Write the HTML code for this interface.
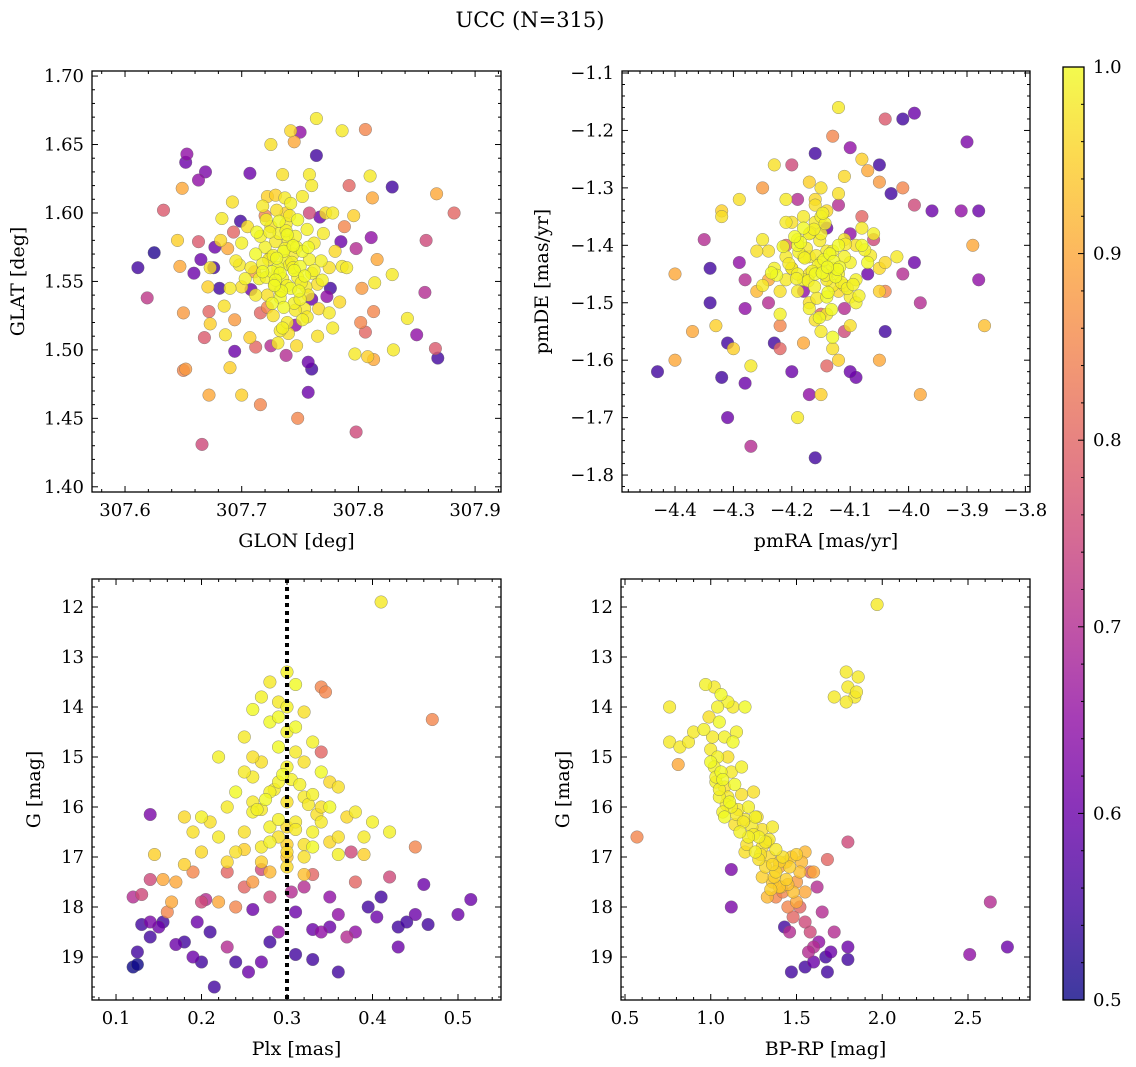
<!DOCTYPE html>
<html><head><meta charset="utf-8">
<style>
html,body{margin:0;padding:0;background:#fff;}
svg{display:block;font-family:"DejaVu Serif","Liberation Serif",serif;}
</style></head>
<body>
<svg id="fig" width="1136" height="1067" viewBox="0 0 1136 1067" xmlns="http://www.w3.org/2000/svg">
<defs>
<linearGradient id="cbgrad" x1="0" y1="1" x2="0" y2="0">
<stop offset="0" stop-color="#0d0887"/><stop offset="0.1" stop-color="#41049d"/><stop offset="0.2" stop-color="#6a00a8"/><stop offset="0.3" stop-color="#8f0da4"/><stop offset="0.4" stop-color="#b12a90"/><stop offset="0.5" stop-color="#cc4778"/><stop offset="0.6" stop-color="#e16462"/><stop offset="0.7" stop-color="#f2844b"/><stop offset="0.8" stop-color="#fca636"/><stop offset="0.9" stop-color="#fcce25"/><stop offset="1" stop-color="#f0f921"/>
</linearGradient>
</defs>
<text x="530" y="27" font-size="21" text-anchor="middle">UCC (N=315)</text>
</svg>
<script>
// ---- Panel 1: GLON / GLAT ----
const p1Lon = [307.611,307.619,307.625,307.633,307.653,307.652,307.663,307.669,307.649,307.645,307.647,307.650,307.650,307.652,307.666,307.672,307.668,307.690,307.700,307.716,307.748,307.757,307.798,307.808,307.802,307.830,307.842,307.850,307.857,307.866,307.868,307.858,307.867,307.882,307.829,307.806,307.786,307.764,307.750,307.745,307.764,307.758,307.792,307.810,307.812,307.811,307.816,307.814,307.803,307.829,307.813,307.806,307.813,307.797,307.778,307.760,307.757,307.738,307.725,307.712,307.707,307.694,307.694,307.686,307.673,307.672,307.681,307.671,307.673,307.659,307.665,307.663,307.677,307.676,307.688,307.683,307.699,307.693,307.707,307.722,307.729,307.720,307.738,307.758,307.767,307.778,307.788,307.796,307.785,307.798,307.786,307.790,307.776,307.773,307.760,307.775,307.746,307.733,307.754,307.722,307.716,307.708,307.698,307.700,307.711,
307.720,307.725,307.731,307.738,307.744,307.750,307.735,307.728,307.742,307.748,307.755,307.760,307.752,307.740,307.732,307.725,307.716,307.712,307.708,307.715,307.722,307.733,307.745,307.757,307.765,307.768,307.762,307.756,307.748,307.738,307.742,307.730,307.718,307.705,307.700,307.695,307.703,307.727,307.739,307.752,307.766,307.775,307.770,307.780,307.736,307.746,307.726,307.758,307.718,307.712,307.692,307.682,307.690,307.685,307.740,307.747,307.731,307.765,307.784,307.772,307.752,307.735,307.760,307.725,307.742,
307.733,307.741,307.729,307.737,307.745,307.723,307.751,307.734,307.727,307.744,307.738,307.731,307.749,307.721,307.736,307.743,307.729,307.754,307.739,307.732,307.746,307.724,307.757,307.735,307.741,307.718,307.762,307.728,307.750,307.737,307.713,307.744,307.730,307.756,307.721,307.739,307.747,307.733,307.726,307.769];
const p1Lat = [1.560,1.538,1.571,1.602,1.643,1.637,1.624,1.630,1.618,1.580,1.561,1.527,1.485,1.486,1.431,1.467,1.509,1.487,1.467,1.460,1.450,1.469,1.440,1.495,1.520,1.500,1.523,1.511,1.542,1.501,1.494,1.580,1.614,1.600,1.619,1.661,1.660,1.669,1.659,1.652,1.642,1.628,1.620,1.627,1.611,1.582,1.566,1.549,1.545,1.555,1.528,1.513,1.493,1.497,1.516,1.486,1.491,1.496,1.503,1.502,1.509,1.522,1.499,1.511,1.519,1.528,1.545,1.546,1.560,1.556,1.566,1.579,1.575,1.560,1.574,1.596,1.594,1.586,1.629,1.612,1.613,1.598,1.600,1.600,1.597,1.600,1.590,1.598,1.579,1.574,1.561,1.560,1.545,1.539,1.537,1.527,1.518,1.514,1.530,1.531,1.527,1.544,1.562,1.546,1.557,
1.575,1.568,1.560,1.565,1.570,1.561,1.552,1.548,1.545,1.553,1.546,1.556,1.572,1.580,1.585,1.590,1.583,1.570,1.560,1.552,1.540,1.538,1.534,1.540,1.548,1.565,1.578,1.588,1.595,1.592,1.607,1.602,1.605,1.590,1.578,1.565,1.552,1.525,1.520,1.522,1.530,1.560,1.585,1.572,1.572,1.583,1.557,1.566,1.563,1.540,1.608,1.580,1.545,1.532,1.512,1.503,1.505,1.510,1.535,1.600,1.612,1.628,1.620,1.650,1.660,
1.556,1.562,1.551,1.574,1.558,1.566,1.549,1.543,1.569,1.576,1.587,1.557,1.543,1.553,1.531,1.564,1.579,1.554,1.547,1.594,1.529,1.586,1.575,1.516,1.598,1.557,1.558,1.547,1.537,1.611,1.586,1.560,1.567,1.524,1.595,1.584,1.575,1.543,1.534,1.551];
const p1Prob = [0.55,0.72,0.52,0.78,0.65,0.6,0.65,0.62,0.9,0.95,0.9,0.88,0.85,0.88,0.75,0.9,0.78,0.95,0.95,0.85,0.85,0.6,0.75,0.95,0.85,0.98,0.98,0.65,0.7,0.78,0.55,0.75,0.9,0.8,0.55,0.85,0.98,0.98,0.65,0.9,0.55,0.98,0.8,0.98,0.9,0.65,0.9,0.98,0.88,0.98,0.85,0.8,0.9,0.98,0.98,0.55,0.6,0.7,0.7,0.8,0.95,0.88,0.6,0.97,0.95,0.8,0.55,0.95,0.97,0.6,0.6,0.78,0.6,0.55,0.9,0.98,0.55,0.8,0.6,0.95,0.95,0.85,0.95,0.75,0.6,0.98,0.85,0.95,0.6,0.7,0.98,0.98,0.55,0.65,0.6,0.98,0.65,0.98,0.98,0.85,0.8,0.6,0.98,0.97,0.88,
0.99,0.98,1.0,0.99,0.98,1.0,0.99,0.97,1.0,0.99,0.98,0.99,1.0,0.98,0.99,0.97,0.99,1.0,0.98,0.99,0.97,1.0,0.99,0.98,0.97,0.99,0.98,0.99,1.0,0.98,0.99,0.97,0.98,0.97,0.99,0.98,0.99,0.97,0.98,0.99,0.96,0.97,0.98,0.96,1.0,0.99,1.0,0.99,0.99,0.98,0.97,0.96,0.98,0.97,0.97,0.96,0.98,0.97,0.96,0.97,0.98,0.97,0.98,0.97,0.96,
1.0,0.99,1.0,0.99,1.0,0.98,0.99,1.0,0.99,1.0,0.99,0.98,1.0,0.99,1.0,0.99,0.98,1.0,0.99,1.0,0.98,0.99,1.0,0.99,0.98,1.0,0.99,1.0,0.99,0.98,1.0,0.99,1.0,0.98,0.99,1.0,0.99,0.98,1.0,0.99];
// ---- Panel 2: pmRA / pmDE ----
const p2Ra = [-4.43,-4.40,-4.40,-4.37,-4.35,-4.34,-4.34,-4.33,-4.32,-4.31,-4.31,-4.30,-4.32,-4.32,-4.29,-4.29,-4.28,-4.28,-4.27,-4.28,-4.27,-4.24,-4.25,-4.25,-4.23,-4.21,-4.20,-4.19,-4.17,-4.16,-4.13,-4.12,-4.10,-4.08,-4.07,-4.05,-4.05,-4.04,-4.01,-3.99,-4.03,-4.01,-3.99,-3.96,-3.91,-3.90,-3.88,-3.89,-3.88,-3.87,-3.98,-3.98,-3.99,-4.01,-4.02,-4.04,-4.04,-4.05,-4.05,-4.09,-4.10,-4.11,-4.12,-4.14,-4.15,-4.17,-4.16,-4.19,-4.18,-4.20,-4.22,-4.23,-4.22,-4.18,-4.15,-4.11,-4.07,-4.06,-4.10,-4.12,-4.14,-4.21,-4.24,-4.26,-4.08,
-4.15,-4.14,-4.16,-4.13,-4.17,-4.12,-4.18,-4.11,-4.19,-4.10,-4.20,-4.15,-4.14,-4.16,-4.13,-4.17,-4.12,-4.18,-4.21,-4.09,-4.22,-4.08,-4.15,-4.14,-4.16,-4.19,-4.11,-4.23,-4.07,-4.13,-4.17,-4.20,-4.10,-4.24,-4.06,-4.15,-4.18,-4.12,-4.21,-4.09,-4.14,-4.16,-4.25,-4.05,-4.19,-4.11,-4.13,-4.17,-4.22,-4.08,-4.15,-4.12,-4.18,-4.20,-4.10,-4.16,-4.14,-4.26,-4.04,-4.13,-4.19,-4.09,-4.21,-4.17,-4.11,
-4.145,-4.155,-4.135,-4.165,-4.125,-4.175,-4.115,-4.185,-4.105,-4.195,-4.142,-4.158,-4.128,-4.172,-4.118,-4.188,-4.152,-4.138,-4.162,-4.148,-4.205,-4.095,-4.215,-4.085,-4.168,-4.132,-4.178,-4.122,-4.143,-4.157,-4.226,-4.075,-4.235,-4.065,-4.147,-4.153,-4.192,-4.108,-4.139,-4.161];
const p2De = [-1.62,-1.45,-1.60,-1.55,-1.39,-1.44,-1.50,-1.54,-1.63,-1.70,-1.57,-1.58,-1.34,-1.35,-1.32,-1.43,-1.46,-1.51,-1.61,-1.64,-1.75,-1.50,-1.39,-1.30,-1.26,-1.32,-1.26,-1.32,-1.29,-1.24,-1.21,-1.16,-1.23,-1.25,-1.27,-1.26,-1.29,-1.18,-1.18,-1.17,-1.31,-1.30,-1.33,-1.34,-1.34,-1.22,-1.34,-1.40,-1.46,-1.54,-1.66,-1.50,-1.43,-1.45,-1.42,-1.48,-1.55,-1.60,-1.48,-1.63,-1.62,-1.55,-1.60,-1.61,-1.66,-1.66,-1.77,-1.70,-1.57,-1.62,-1.58,-1.57,-1.54,-1.48,-1.52,-1.51,-1.45,-1.39,-1.38,-1.33,-1.37,-1.40,-1.46,-1.48,-1.35,
-1.43,-1.41,-1.45,-1.44,-1.42,-1.40,-1.46,-1.47,-1.39,-1.43,-1.44,-1.38,-1.49,-1.36,-1.41,-1.50,-1.45,-1.37,-1.42,-1.46,-1.48,-1.40,-1.35,-1.52,-1.33,-1.45,-1.39,-1.44,-1.43,-1.47,-1.51,-1.36,-1.49,-1.41,-1.38,-1.55,-1.42,-1.31,-1.46,-1.50,-1.34,-1.53,-1.47,-1.44,-1.40,-1.42,-1.56,-1.38,-1.52,-1.37,-1.30,-1.48,-1.35,-1.44,-1.54,-1.32,-1.46,-1.41,-1.43,-1.58,-1.48,-1.40,-1.36,-1.45,-1.28,
-1.425,-1.435,-1.415,-1.445,-1.455,-1.405,-1.465,-1.395,-1.475,-1.385,-1.452,-1.418,-1.428,-1.462,-1.438,-1.412,-1.392,-1.482,-1.372,-1.448,-1.432,-1.468,-1.402,-1.488,-1.378,-1.512,-1.422,-1.442,-1.362,-1.492,-1.452,-1.408,-1.448,-1.418,-1.344,-1.526,-1.458,-1.398,-1.438,-1.472];
const p2Prob = [0.55,0.9,0.9,0.9,0.7,0.55,0.55,0.95,0.55,0.6,0.55,0.95,0.95,0.97,0.97,0.65,0.7,0.65,0.98,0.6,0.7,0.7,0.98,0.88,0.97,0.98,0.75,0.7,0.95,0.55,0.85,0.98,0.65,0.95,0.9,0.55,0.88,0.78,0.55,0.6,0.55,0.85,0.75,0.6,0.65,0.62,0.6,0.9,0.65,0.93,0.9,0.7,0.6,0.7,0.98,0.85,0.55,0.9,0.95,0.6,0.6,0.75,0.95,0.8,0.95,0.65,0.55,0.98,0.9,0.6,0.8,0.55,0.85,0.65,0.8,0.7,0.6,0.75,0.65,0.7,0.6,0.8,0.9,0.92,0.8,
0.99,0.98,1.0,0.99,0.98,1.0,0.99,0.97,1.0,0.99,0.98,0.99,1.0,0.98,0.99,0.97,0.99,1.0,0.98,0.99,0.97,1.0,0.99,0.98,0.97,0.99,0.98,0.99,1.0,0.98,0.99,0.97,0.98,0.97,0.99,0.98,0.99,0.97,0.98,0.99,0.96,0.97,0.98,0.96,1.0,0.99,1.0,0.99,0.99,0.98,0.97,0.96,0.98,0.97,0.97,0.96,0.98,0.97,0.96,0.97,0.98,0.97,0.98,0.97,0.96,
1.0,0.99,1.0,0.99,1.0,0.98,0.99,1.0,0.99,1.0,0.99,0.98,1.0,0.99,1.0,0.99,0.98,1.0,0.99,1.0,0.98,0.99,1.0,0.99,0.98,1.0,0.99,1.0,0.99,0.98,1.0,0.99,1.0,0.98,0.99,1.0,0.99,0.98,1.0,0.99];
// ---- Panel 3: Plx / G ----
const p3Plx = [0.41,0.47,0.14,0.12,0.13,0.14,0.155,0.13,0.14,0.15,0.155,0.125,0.12,0.125,0.14,0.16,0.165,0.17,0.18,0.19,0.2,0.215,0.21,0.2,0.205,0.195,0.23,0.24,0.255,0.27,0.28,0.26,0.25,0.29,0.31,0.33,0.36,0.35,0.34,0.33,0.37,0.38,0.395,0.405,0.41,0.43,0.44,0.43,0.45,0.46,0.465,0.5,0.515,0.45,0.42,0.38,0.375,0.34,0.34,0.345,0.32,0.305,0.27,0.26,0.23,0.22,0.19,0.17,0.18,0.145,0.35,0.31,0.28,0.24,0.36,0.33,
0.30,0.28,0.31,0.27,0.29,0.26,0.3,0.32,0.28,0.3,0.25,0.33,0.29,0.31,0.22,0.27,0.3,0.34,0.26,0.29,0.36,0.24,0.28,0.32,0.3,0.2,0.23,0.26,0.35,0.38,0.4,0.19,0.22,0.25,0.28,0.31,0.33,0.36,0.39,0.42,0.2,0.24,0.27,0.3,0.33,0.36,0.27,0.3,0.23,0.32,0.39,0.18,0.34,0.26,0.32,0.35,0.25,0.21,0.37,0.29,
0.295,0.305,0.285,0.315,0.275,0.325,0.265,0.335,0.29,0.31,0.28,0.32,0.3,0.27,0.33,0.29,0.31,0.25,0.35,0.3,0.28,0.32,0.26,0.34,0.3];
const p3G = [11.9,14.25,16.15,17.8,17.75,17.45,17.45,18.35,18.3,18.4,18.3,18.9,19.2,19.15,18.6,18.1,17.9,18.75,18.7,19.0,19.1,19.6,18.5,17.9,17.85,18.3,18.8,19.1,19.3,19.1,18.7,18.05,17.6,18.5,18.95,19.05,19.3,18.4,18.5,18.45,18.6,18.5,18.0,18.2,17.8,18.4,18.3,18.8,18.15,17.55,18.35,18.15,17.85,16.8,17.4,17.5,16.9,14.9,13.6,13.7,17.6,17.7,17.25,17.5,17.3,17.9,17.3,17.5,17.15,16.95,17.8,18.1,17.8,18.0,18.15,17.35,
13.3,13.5,13.55,13.8,13.9,14.05,14.0,14.1,14.3,14.5,14.6,14.7,14.8,14.9,15.0,15.1,15.2,15.3,15.4,15.5,15.6,15.7,15.7,15.8,15.9,16.2,16.0,16.1,16.0,16.1,16.3,16.5,16.6,16.5,16.4,16.3,16.5,16.6,16.6,16.5,16.9,16.9,16.8,16.9,16.8,16.95,17.1,17.2,17.1,17.0,16.95,16.2,16.3,15.0,15.1,15.5,15.3,16.3,16.2,16.6,
15.35,15.45,15.65,15.55,15.85,15.95,16.05,16.15,16.25,16.45,16.7,16.75,16.4,16.05,15.75,14.2,14.4,16.85,16.7,17.0,17.3,17.35,15.9,16.0,16.75];
const p3Prob = [0.98,0.85,0.62,0.7,0.75,0.75,0.9,0.55,0.62,0.6,0.55,0.55,0.5,0.5,0.55,0.85,0.9,0.6,0.55,0.6,0.55,0.55,0.55,0.75,0.7,0.6,0.7,0.55,0.6,0.6,0.55,0.6,0.8,0.65,0.55,0.55,0.55,0.6,0.65,0.6,0.7,0.65,0.55,0.6,0.55,0.55,0.55,0.6,0.6,0.6,0.55,0.6,0.6,0.85,0.75,0.8,0.75,0.8,0.85,0.85,0.7,0.7,0.75,0.88,0.8,0.9,0.85,0.9,0.95,0.95,0.65,0.6,0.75,0.85,0.65,0.8,
0.99,0.98,1.0,0.99,0.98,1.0,0.99,0.97,1.0,0.99,0.98,0.99,1.0,0.98,0.99,0.97,0.99,1.0,0.98,0.99,0.97,1.0,0.99,0.98,0.97,0.99,0.98,0.99,1.0,0.98,0.99,0.97,0.98,0.97,0.99,0.98,0.99,0.97,0.98,0.99,0.96,0.97,0.98,0.96,1.0,0.99,0.95,0.96,0.96,0.97,0.95,0.96,0.98,0.97,0.97,0.96,0.98,0.97,0.96,0.97,
1.0,0.99,0.98,0.99,1.0,0.98,0.99,0.97,0.99,0.98,0.99,0.97,0.96,0.98,0.99,1.0,1.0,0.95,0.96,0.94,0.92,0.93,0.98,0.97,0.95];
// ---- Panel 4: BP-RP / G ----
const p4Col = [1.97,0.57,0.76,0.76,0.82,0.81,0.87,0.9,1.79,1.8,1.84,1.86,1.72,1.79,1.85,1.8,1.68,1.12,1.12,2.63,2.73,2.51,1.47,1.55,1.68,1.8,1.8,1.43,1.65,1.72,1.70,1.67,1.63,1.6,1.58,1.55,1.52,1.48,1.45,1.38,1.42,1.5,1.55,1.62,1.58,1.46,1.6,1.57,1.4,1.5,
0.97,1.02,1.06,1.1,1.13,1.2,1.04,0.99,1.05,0.96,1.01,1.08,1.13,1.0,1.04,1.1,1.02,1.06,1.12,1.03,1.08,1.14,1.05,1.1,1.18,1.12,1.16,1.22,1.08,1.2,1.26,1.14,1.24,1.3,1.28,1.34,1.22,1.3,1.38,1.26,1.34,1.42,1.5,1.32,1.38,1.46,1.36,1.44,1.52,1.4,1.48,1.3,1.2,1.36,1.18,1.15,1.25,1.27,1.55,1.6,1.33,
1.0,1.03,1.07,1.05,1.09,1.11,1.07,1.15,1.17,1.19,1.21,1.25,1.29,1.32,1.36,1.4,1.44,1.28,1.33,1.37,1.41,1.47,1.53,1.45,1.35];
const p4G = [11.95,16.6,14.0,14.7,14.8,15.15,14.7,14.5,13.3,13.6,13.8,13.4,13.8,13.9,13.7,16.7,17.05,17.25,18.0,17.9,18.8,18.95,19.3,19.2,19.3,19.05,18.8,18.4,18.1,18.5,18.9,19.0,18.7,18.8,18.5,18.3,18.0,18.2,18.0,17.8,17.7,17.9,17.7,17.6,17.3,18.5,19.1,18.9,17.2,17.5,
13.55,13.6,13.75,13.9,14.0,14.0,14.0,14.2,14.3,14.45,14.6,14.6,14.7,14.85,15.0,15.0,15.2,15.3,15.3,15.5,15.6,15.55,15.8,15.8,15.75,16.0,16.05,16.0,16.2,16.25,16.2,16.35,16.4,16.45,16.6,16.65,16.6,16.8,16.85,16.9,17.0,17.0,16.95,17.2,17.3,17.2,17.5,17.45,17.3,17.6,17.7,17.4,16.9,16.4,15.2,14.5,15.7,16.2,16.9,17.3,17.8,
15.1,15.4,15.45,15.65,15.95,15.9,16.1,16.15,16.5,16.3,16.75,16.55,16.95,16.7,17.15,17.1,17.1,17.05,16.7,17.4,17.6,17.0,17.1,17.55,17.65];
const p4Prob = [0.98,0.85,0.98,0.98,0.98,0.9,0.98,0.98,0.98,0.98,0.98,0.98,0.98,0.98,0.98,0.75,0.8,0.62,0.62,0.7,0.6,0.65,0.55,0.55,0.55,0.55,0.6,0.55,0.7,0.7,0.6,0.55,0.65,0.7,0.75,0.75,0.8,0.8,0.85,0.85,0.85,0.9,0.9,0.7,0.8,0.7,0.6,0.7,0.9,0.88,
0.99,0.98,1.0,0.99,0.98,1.0,0.99,0.97,1.0,0.99,0.98,0.99,1.0,0.98,0.99,0.97,0.99,1.0,0.98,0.99,0.97,1.0,0.99,0.98,0.97,0.99,0.98,0.99,1.0,0.98,0.99,0.97,0.98,0.97,0.99,0.98,0.99,0.97,0.98,0.99,0.96,0.97,0.95,0.96,0.96,0.95,0.94,0.95,0.93,0.94,0.93,0.95,0.97,0.98,0.99,0.99,0.97,0.97,0.92,0.9,0.92,
1.0,0.99,1.0,0.99,0.98,1.0,0.99,0.98,0.99,0.98,0.97,0.98,0.97,0.98,0.96,0.95,0.94,0.97,0.96,0.95,0.93,0.94,0.92,0.93,0.95];
// ---- Colorbar ticks ----
const cbTicks = [0.5,0.6,0.7,0.8,0.9,1.0];

const NS = "http://www.w3.org/2000/svg";
const svg = document.getElementById('fig');
const stops = ["#0d0887","#41049d","#6a00a8","#8f0da4","#b12a90","#cc4778","#e16462","#f2844b","#fca636","#fcce25","#f0f921"];
function hex(h){return [parseInt(h.slice(1,3),16),parseInt(h.slice(3,5),16),parseInt(h.slice(5,7),16)];}
function plasma(p){
  let t=Math.max(0,Math.min(1,(p-0.5)/0.5))*10; const i=Math.min(9,Math.floor(t)); const f=t-i;
  const a=hex(stops[i]), b=hex(stops[i+1]);
  return 'rgb('+a.map((v,k)=>Math.round(v+(b[k]-v)*f)).join(',')+')';
}
function mk(tag,attrs,parent){const e=document.createElementNS(NS,tag);for(const k in attrs)e.setAttribute(k,attrs[k]);(parent||svg).appendChild(e);return e;}
function fmt(v,d){let s=v.toFixed(d);return s.replace('-','\u2212');}

function panel(cfg){
  const g=mk('g',{});
  
  
  const X=v=>cfg.L+(v-cfg.x0)/(cfg.x1-cfg.x0)*(cfg.R-cfg.L);
  const Y=v=>cfg.inv ? cfg.T+(v-cfg.y0)/(cfg.y1-cfg.y0)*(cfg.B-cfg.T) : cfg.B-(v-cfg.y0)/(cfg.y1-cfg.y0)*(cfg.B-cfg.T);
  const clip='clip-'+cfg.name;
  const cp=mk('clipPath',{id:clip},g); mk('rect',{x:cfg.L,y:cfg.T,width:cfg.R-cfg.L,height:cfg.B-cfg.T},cp);
  const pts=mk('g',{'clip-path':'url(#'+clip+')'},g);
  
  
  const idx=cfg.xs.map((_,i)=>i).sort((a,b)=>cfg.ps[a]-cfg.ps[b]);
  idx.forEach(i=>{
    const c=mk('circle',{cx:X(cfg.xs[i]).toFixed(1),cy:Y(cfg.ys[i]).toFixed(1),r:6.3,fill:plasma(cfg.ps[i]),'fill-opacity':0.8,stroke:'#666','stroke-opacity':0.7,'stroke-width':0.5},pts);
    
    
  });
  if(cfg.vline!==undefined){
    const l=mk('line',{x1:X(cfg.vline),x2:X(cfg.vline),y1:cfg.T,y2:cfg.B,stroke:'#000','stroke-width':4,'stroke-dasharray':'4,4'},g);
    
    
  }
  const tk=mk('g',{stroke:'#000','stroke-width':1},g);
  const eps=1e-9;
  const n0=Math.ceil(cfg.x0/cfg.xmin-eps), n1=Math.floor(cfg.x1/cfg.xmin+eps);
  for(let n=n0;n<=n1;n++){const v=n*cfg.xmin;const major=Math.abs(v/cfg.xmaj-Math.round(v/cfg.xmaj))<1e-6;const len=major?6:3;const x=X(v);
    mk('line',{x1:x,x2:x,y1:cfg.B,y2:cfg.B-len},tk);mk('line',{x1:x,x2:x,y1:cfg.T,y2:cfg.T+len},tk);
    if(major){const t=mk('text',{x:x,y:cfg.B+24,'font-size':18,'text-anchor':'middle',stroke:'none'},g);t.textContent=fmt(v,cfg.xd);
      
      }
  }
  const ylo=Math.min(cfg.y0,cfg.y1), yhi=Math.max(cfg.y0,cfg.y1);
  const m0=Math.ceil(ylo/cfg.ymin-eps), m1=Math.floor(yhi/cfg.ymin+eps);
  for(let n=m0;n<=m1;n++){const v=n*cfg.ymin;const major=Math.abs(v/cfg.ymaj-Math.round(v/cfg.ymaj))<1e-6;const len=major?6:3;const y=Y(v);
    mk('line',{x1:cfg.L,x2:cfg.L+len,y1:y,y2:y},tk);mk('line',{x1:cfg.R,x2:cfg.R-len,y1:y,y2:y},tk);
    if(major){const t=mk('text',{x:cfg.L-8,y:y+6,'font-size':18,'text-anchor':'end',stroke:'none'},g);t.textContent=fmt(v,cfg.yd);
      
      }
  }
  const fr=mk('rect',{x:cfg.L,y:cfg.T,width:cfg.R-cfg.L,height:cfg.B-cfg.T,fill:'none',stroke:'#000','stroke-width':1.3},g);
  
  
  const xl=mk('text',{x:(cfg.L+cfg.R)/2,y:cfg.B+55,'font-size':19,'text-anchor':'middle'},g);xl.textContent=cfg.xlabel;
  
  
  const cy=(cfg.T+cfg.B)/2;
  const yl=mk('text',{x:cfg.ylx,y:cy,'font-size':19,'text-anchor':'middle',transform:'rotate(-90 '+cfg.ylx+' '+cy+')'},g);yl.textContent=cfg.ylabel;
  
  
}

panel({name:'panel-glon-glat',L:92,R:501,T:71,B:492,x0:307.5717,x1:307.9222,y0:1.3962,y1:1.7037,xmaj:0.1,xmin:0.02,ymaj:0.05,ymin:0.01,xd:1,yd:2,xs:p1Lon,ys:p1Lat,ps:p1Prob,xlabel:'GLON [deg]',ylabel:'GLAT [deg]',ylx:24});
panel({name:'panel-pmra-pmde',L:622,R:1030,T:71,B:492,x0:-4.4908,x1:-3.7921,y0:-1.8295,y1:-1.0965,xmaj:0.1,xmin:0.02,ymaj:0.1,ymin:0.02,xd:1,yd:1,xs:p2Ra,ys:p2De,ps:p2Prob,xlabel:'pmRA [mas/yr]',ylabel:'pmDE [mas/yr]',ylx:548});
panel({name:'panel-plx-g',L:92,R:501,T:579,B:1000,inv:true,x0:0.0719,x1:0.5503,y0:11.44,y1:19.86,xmaj:0.1,xmin:0.02,ymaj:1,ymin:0.2,xd:1,yd:0,xs:p3Plx,ys:p3G,ps:p3Prob,vline:0.3,xlabel:'Plx [mas]',ylabel:'G [mag]',ylx:40});
panel({name:'panel-bprp-g',L:621,R:1030,T:579,B:1000,inv:true,x0:0.4767,x1:2.8615,y0:11.44,y1:19.86,xmaj:0.5,xmin:0.1,ymaj:1,ymin:0.2,xd:1,yd:0,xs:p4Col,ys:p4G,ps:p4Prob,xlabel:'BP-RP [mag]',ylabel:'G [mag]',ylx:569});

(function(){
  const L=1063,R=1084,T=67,B=1000;
  const g=mk('g',{});
  
  
  mk('rect',{x:L,y:T,width:R-L,height:B-T,fill:'url(#cbgrad)','fill-opacity':0.8},g);
  const Yc=v=>B-(v-0.5)/0.5*(B-T);
  for(let n=25;n<=50;n++){const v=n/50;const major=n%5===0;const y=Yc(v);
    mk('line',{x1:R,x2:R-(major?6:3),y1:y,y2:y,stroke:'#000','stroke-width':1},g);}
  cbTicks.forEach(v=>{const t=mk('text',{x:R+9,y:Yc(v)+6,'font-size':18},g);t.textContent=v.toFixed(1);
    
    });
  mk('rect',{x:L,y:T,width:R-L,height:B-T,fill:'none',stroke:'#000','stroke-width':1.3},g);
})();
</script>
</body></html>
